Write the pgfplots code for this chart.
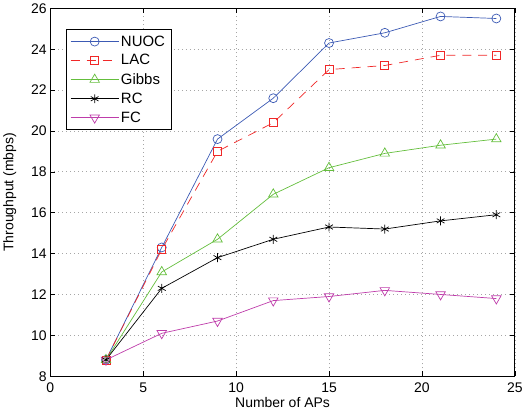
\documentclass[border=0pt]{standalone}
\usepackage{fontspec}
\setmainfont{Liberation Sans}
\usepackage{pgfplots}
\pgfplotsset{compat=1.18}
\definecolor{mblue}{RGB}{60,90,180}
\definecolor{mred}{RGB}{240,40,40}
\definecolor{mgreen}{RGB}{100,190,60}
\definecolor{mmag}{RGB}{190,60,170}
\begin{document}
\begin{tikzpicture}
\begin{axis}[
  scale only axis, width=466pt, height=369pt,
  xmin=0, xmax=25, ymin=8, ymax=26,
  xtick={0,5,10,15,20,25}, ytick={8,10,...,26},
  grid=major, major grid style={gray!70, line width=0.7pt, dash pattern=on 0.8pt off 3.2pt},
  tick align=inside, major tick length=5pt, axis line style={line width=0.9pt},
  tick style={line width=0.6pt, black},
  font=\fontsize{14}{16}\selectfont,
  /pgf/number format/assume math mode=true,
  xticklabel style={yshift=-3pt},
  xlabel={Number of APs}, ylabel={Throughput (mbps)},
  xlabel style={yshift=2pt}, ylabel style={yshift=8pt},
  legend style={at={(0.034,0.943)}, anchor=north west, draw=black, line width=0.8pt,
    font=\fontsize{15}{17}\selectfont, row sep=3pt, inner xsep=4pt, inner ysep=4pt},
  legend image code/.code={\draw[mark repeat=2,mark phase=2] plot coordinates {(0pt,0pt) (24pt,0pt) (48pt,0pt)};},
  legend cell align=left,
  every axis plot/.append style={line width=0.7pt, mark options={solid}},
  mark size=4.5pt,
]
\addplot[mblue, mark=o] coordinates {(3,8.8) (6,14.3) (9,19.6) (12,21.6) (15,24.3) (18,24.8) (21,25.6) (24,25.5)};
\addplot[mred, dash pattern=on 9pt off 7pt, mark=square, mark size=4pt] coordinates {(3,8.8) (6,14.2) (9,19.0) (12,20.4) (15,23.0) (18,23.2) (21,23.7) (24,23.7)};
\addplot[mgreen, mark=triangle, mark size=5.5pt] coordinates {(3,8.8) (6,13.1) (9,14.7) (12,16.9) (15,18.2) (18,18.9) (21,19.3) (24,19.6)};
\addplot[black, mark=asterisk, mark size=4.5pt] coordinates {(3,8.8) (6,12.3) (9,13.8) (12,14.7) (15,15.3) (18,15.2) (21,15.6) (24,15.9)};
\addplot[mmag, mark=triangle, mark size=5.5pt, mark options={rotate=180}] coordinates {(3,8.8) (6,10.1) (9,10.7) (12,11.7) (15,11.9) (18,12.2) (21,12.0) (24,11.8)};
\legend{NUOC, LAC, Gibbs, RC, FC}
\end{axis}
\end{tikzpicture}
\end{document}
